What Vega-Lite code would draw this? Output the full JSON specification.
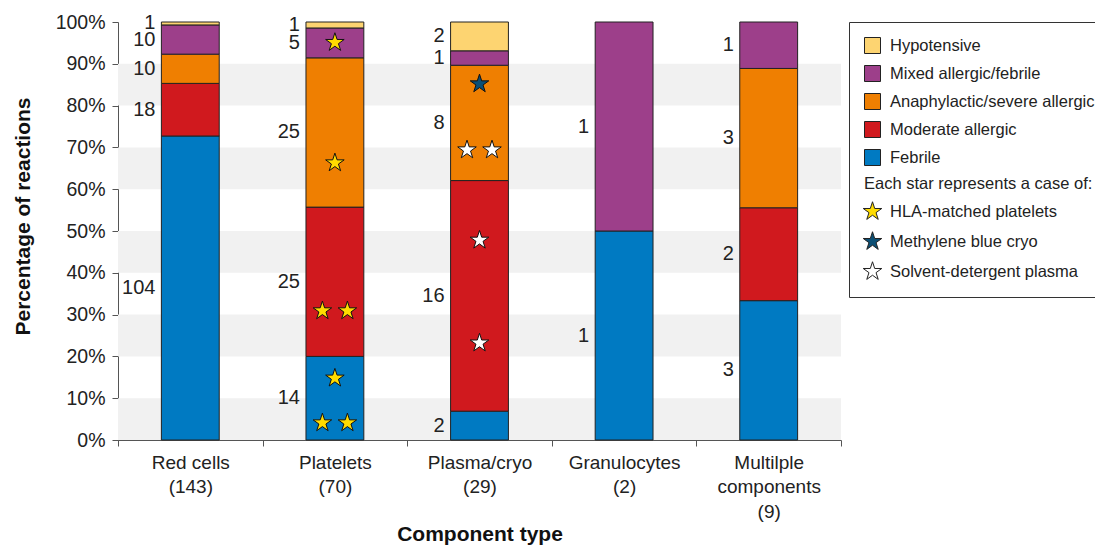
{
  "$schema": "https://vega.github.io/schema/vega-lite/v6.json",
  "width": 723,
  "height": 418,
  "autosize": "none",
  "padding": {"left": 118, "top": 22, "right": 254, "bottom": 107},
  "background": "white",
  "config": {
    "font": "Liberation Sans",
    "view": {"stroke": null},
    "axis": {"grid": false, "labelColor": "#222", "titleColor": "#111", "domainColor": "#555", "tickColor": "#555", "tickSize": 6, "titleFontSize": 21, "titleFontWeight": "bold"}
  },
  "datasets": {
    "bands": [
      {"lo": 0.0, "hi": 0.1},
      {"lo": 0.2, "hi": 0.3},
      {"lo": 0.4, "hi": 0.5},
      {"lo": 0.6, "hi": 0.7},
      {"lo": 0.8, "hi": 0.9}
    ],
    "reactions": [
      {"component": "Red cells|(143)", "reaction": "Febrile", "rank": 1, "count": 104},
      {"component": "Red cells|(143)", "reaction": "Moderate allergic", "rank": 2, "count": 18},
      {"component": "Red cells|(143)", "reaction": "Anaphylactic/severe allergic", "rank": 3, "count": 10},
      {"component": "Red cells|(143)", "reaction": "Mixed allergic/febrile", "rank": 4, "count": 10},
      {"component": "Red cells|(143)", "reaction": "Hypotensive", "rank": 5, "count": 1},
      {"component": "Platelets|(70)", "reaction": "Febrile", "rank": 1, "count": 14},
      {"component": "Platelets|(70)", "reaction": "Moderate allergic", "rank": 2, "count": 25},
      {"component": "Platelets|(70)", "reaction": "Anaphylactic/severe allergic", "rank": 3, "count": 25},
      {"component": "Platelets|(70)", "reaction": "Mixed allergic/febrile", "rank": 4, "count": 5},
      {"component": "Platelets|(70)", "reaction": "Hypotensive", "rank": 5, "count": 1},
      {"component": "Plasma/cryo|(29)", "reaction": "Febrile", "rank": 1, "count": 2},
      {"component": "Plasma/cryo|(29)", "reaction": "Moderate allergic", "rank": 2, "count": 16},
      {"component": "Plasma/cryo|(29)", "reaction": "Anaphylactic/severe allergic", "rank": 3, "count": 8},
      {"component": "Plasma/cryo|(29)", "reaction": "Mixed allergic/febrile", "rank": 4, "count": 1},
      {"component": "Plasma/cryo|(29)", "reaction": "Hypotensive", "rank": 5, "count": 2},
      {"component": "Granulocytes|(2)", "reaction": "Febrile", "rank": 1, "count": 1},
      {"component": "Granulocytes|(2)", "reaction": "Mixed allergic/febrile", "rank": 4, "count": 1},
      {"component": "Multilple|components|(9)", "reaction": "Febrile", "rank": 1, "count": 3},
      {"component": "Multilple|components|(9)", "reaction": "Moderate allergic", "rank": 2, "count": 2},
      {"component": "Multilple|components|(9)", "reaction": "Anaphylactic/severe allergic", "rank": 3, "count": 3},
      {"component": "Multilple|components|(9)", "reaction": "Mixed allergic/febrile", "rank": 4, "count": 1}
    ],
    "stars": [
      {"component": "Platelets|(70)", "star": "HLA-matched platelets", "slot": "center", "pct": 0.951},
      {"component": "Platelets|(70)", "star": "HLA-matched platelets", "slot": "center", "pct": 0.663},
      {"component": "Platelets|(70)", "star": "HLA-matched platelets", "slot": "left", "pct": 0.309},
      {"component": "Platelets|(70)", "star": "HLA-matched platelets", "slot": "right", "pct": 0.309},
      {"component": "Platelets|(70)", "star": "HLA-matched platelets", "slot": "center", "pct": 0.148},
      {"component": "Platelets|(70)", "star": "HLA-matched platelets", "slot": "left", "pct": 0.041},
      {"component": "Platelets|(70)", "star": "HLA-matched platelets", "slot": "right", "pct": 0.041},
      {"component": "Plasma/cryo|(29)", "star": "Methylene blue cryo", "slot": "center", "pct": 0.852},
      {"component": "Plasma/cryo|(29)", "star": "Solvent-detergent plasma", "slot": "left", "pct": 0.694},
      {"component": "Plasma/cryo|(29)", "star": "Solvent-detergent plasma", "slot": "right", "pct": 0.694},
      {"component": "Plasma/cryo|(29)", "star": "Solvent-detergent plasma", "slot": "center", "pct": 0.478},
      {"component": "Plasma/cryo|(29)", "star": "Solvent-detergent plasma", "slot": "center", "pct": 0.232}
    ]
  },
  "layer": [
    {
      "data": {"name": "bands"},
      "mark": {"type": "rect", "fill": "#f1f1f1"},
      "encoding": {
        "y": {"field": "lo", "type": "quantitative", "title": "Percentage of reactions", "scale": {"domain": [0, 1]}},
        "y2": {"field": "hi"}
      }
    },
    {
      "data": {"name": "reactions"},
      "mark": {"type": "bar", "width": {"band": 0.4}, "stroke": "#222", "strokeWidth": 1},
      "encoding": {
        "x": {
          "field": "component", "type": "nominal", "title": "Component type",
          "scale": {"domain": ["Red cells|(143)", "Platelets|(70)", "Plasma/cryo|(29)", "Granulocytes|(2)", "Multilple|components|(9)"], "paddingInner": 0, "paddingOuter": 0},
          "axis": {"title": "Component type", "labelExpr": "split(datum.label, '|')", "labelAngle": 0, "tickBand": "extent", "labelFontSize": 19, "labelLineHeight": 24.5, "labelPadding": 7, "titleY": 100, "titleBaseline": "alphabetic"}
        },
        "y": {
          "field": "count", "type": "quantitative", "stack": "normalize", "title": "Percentage of reactions",
          "scale": {"domain": [0, 1]},
          "axis": {"title": "Percentage of reactions", "format": ".0%", "values": [0, 0.1, 0.2, 0.3, 0.4, 0.5, 0.6, 0.7, 0.8, 0.9, 1], "labelFontSize": 19.5, "labelPadding": 7, "titleX": -95, "titleY": 194, "titleAngle": -90, "titleBaseline": "middle", "titleAlign": "center"}
        },
        "fill": {
          "field": "reaction", "type": "nominal",
          "scale": {
            "domain": ["Hypotensive", "Mixed allergic/febrile", "Anaphylactic/severe allergic", "Moderate allergic", "Febrile", "Each star represents a case of:", "HLA-matched platelets", "Methylene blue cryo", "Solvent-detergent plasma"],
            "range": ["#fdd471", "#9d3f8a", "#ef7f01", "#d0191e", "#007ac2", "transparent", "#ffdc00", "#0b4f75", "#ffffff"]
          },
          "legend": {
            "title": null, "orient": "none", "legendX": 731, "legendY": 0,
            "strokeColor": "#333", "padding": 15, "labelFontSize": 16.5, "labelColor": "#222",
            "symbolType": "square", "symbolSize": 256, "symbolStrokeColor": "#222", "symbolStrokeWidth": 1,
            "rowPadding": 7, "labelOffset": 9, "labelLimit": 400, "symbolOpacity": 1,
            "encode": {
              "symbols": {"update": {
                "shape": {"signal": "test(/platelets|cryo|plasma/, datum.value) ? 'M0,-1L0.2245,-0.309L0.951,-0.309L0.363,0.118L0.588,0.809L0,0.382L-0.588,0.809L-0.363,0.118L-0.951,-0.309L-0.2245,-0.309Z' : 'square'"},
                "size": {"signal": "test(/platelets|cryo|plasma/, datum.value) ? 380 : 256"},
                "strokeOpacity": {"signal": "datum.value === 'Each star represents a case of:' ? 0 : 1"}
              }},
              "labels": {"update": {"dx": {"signal": "datum.value === 'Each star represents a case of:' ? -26 : 0"}}}
            }
          }
        },
        "order": {"field": "rank", "type": "quantitative"}
      }
    },
    {
      "data": {"name": "reactions"},
      "mark": {"type": "text", "align": "right", "baseline": "middle", "dx": -6, "fontSize": 20, "color": "#222"},
      "encoding": {
        "x": {"field": "component", "type": "nominal", "title": "Component type", "bandPosition": 0.3},
        "y": {"field": "count", "type": "quantitative", "title": "Percentage of reactions", "stack": "normalize", "bandPosition": 0.5},
        "detail": {"field": "reaction"},
        "text": {"field": "count", "type": "quantitative"},
        "order": {"field": "rank", "type": "quantitative"}
      }
    },
    {
      "data": {"name": "stars"},
      "transform": [{"filter": "datum.slot === 'center'"}],
      "mark": {"type": "point", "shape": "M0,-1L0.2245,-0.309L0.951,-0.309L0.363,0.118L0.588,0.809L0,0.382L-0.588,0.809L-0.363,0.118L-0.951,-0.309L-0.2245,-0.309Z", "size": 380, "filled": true, "stroke": "#111", "strokeWidth": 1, "opacity": 1},
      "encoding": {
        "x": {"field": "component", "type": "nominal", "title": "Component type"},
        "y": {"field": "pct", "type": "quantitative", "title": "Percentage of reactions"},
        "fill": {"field": "star", "type": "nominal", "legend": null}
      }
    },
    {
      "data": {"name": "stars"},
      "transform": [{"filter": "datum.slot === 'left'"}],
      "mark": {"type": "point", "shape": "M0,-1L0.2245,-0.309L0.951,-0.309L0.363,0.118L0.588,0.809L0,0.382L-0.588,0.809L-0.363,0.118L-0.951,-0.309L-0.2245,-0.309Z", "size": 380, "filled": true, "stroke": "#111", "strokeWidth": 1, "opacity": 1, "xOffset": -12.5},
      "encoding": {
        "x": {"field": "component", "type": "nominal", "title": "Component type"},
        "y": {"field": "pct", "type": "quantitative", "title": "Percentage of reactions"},
        "fill": {"field": "star", "type": "nominal", "legend": null}
      }
    },
    {
      "data": {"name": "stars"},
      "transform": [{"filter": "datum.slot === 'right'"}],
      "mark": {"type": "point", "shape": "M0,-1L0.2245,-0.309L0.951,-0.309L0.363,0.118L0.588,0.809L0,0.382L-0.588,0.809L-0.363,0.118L-0.951,-0.309L-0.2245,-0.309Z", "size": 380, "filled": true, "stroke": "#111", "strokeWidth": 1, "opacity": 1, "xOffset": 12.5},
      "encoding": {
        "x": {"field": "component", "type": "nominal", "title": "Component type"},
        "y": {"field": "pct", "type": "quantitative", "title": "Percentage of reactions"},
        "fill": {"field": "star", "type": "nominal", "legend": null}
      }
    }
  ]
}
